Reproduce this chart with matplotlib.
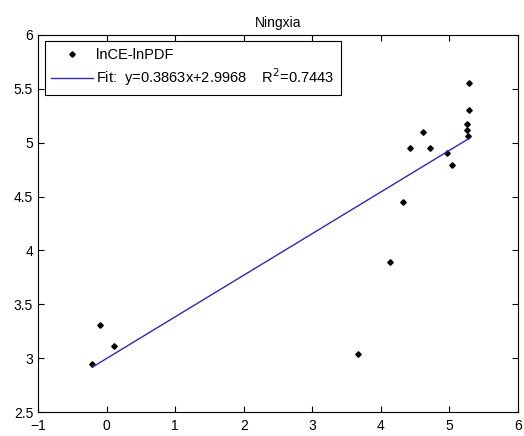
import numpy as np
import matplotlib.pyplot as plt

plt.rcParams['font.family'] = ['Liberation Sans', 'DejaVu Sans']

# lnCE vs lnPDF
x_pts = [-0.21, -0.09, 0.11, 3.66, 4.14, 4.32, 4.43, 4.61, 4.72, 4.96, 5.04,
         5.25, 5.25, 5.27, 5.29, 5.28]
y_pts = [2.95, 3.31, 3.11, 3.04, 3.89, 4.45, 4.95, 5.10, 4.95, 4.90, 4.79,
         5.17, 5.12, 5.06, 5.30, 5.55]
slope, icpt = 0.3863, 2.9968
r2 = 0.7443

fig = plt.figure(figsize=(5.24, 4.36), dpi=100)
ax = fig.add_axes([0.0725, 0.055, 0.916, 0.865])

ax.plot(x_pts, y_pts, 'kD', ms=2.8, label='lnCE-lnPDF')
xs = np.array([min(x_pts), max(x_pts)])
ax.plot(xs, slope*xs+icpt, color='#2b2bb0', lw=1,
        label='Fit:  y=%.4fx+%.4f    R$^2$=%.4f' % (slope, icpt, r2))

ax.set_xlim(-1, 6)
ax.set_ylim(2.5, 6)
ax.set_xticks(range(-1, 7))
ax.set_yticks(np.arange(2.5, 6.01, 0.5))
ax.set_yticklabels(['2.5', '3', '3.5', '4', '4.5', '5', '5.5', '6'])
ax.tick_params(direction='in', top=True, right=True, labelsize=10, length=4)
ax.tick_params(axis='x', pad=5)
ax.set_title('Ningxia', fontsize=10)

leg = ax.legend(loc='upper left', fontsize=10.5, fancybox=False, edgecolor='k',
                borderaxespad=0.45, handlelength=2.9, handletextpad=0.2,
                labelspacing=0.3, borderpad=0.45, framealpha=1)
leg.get_frame().set_linewidth(0.8)

fig.savefig('out.png')
